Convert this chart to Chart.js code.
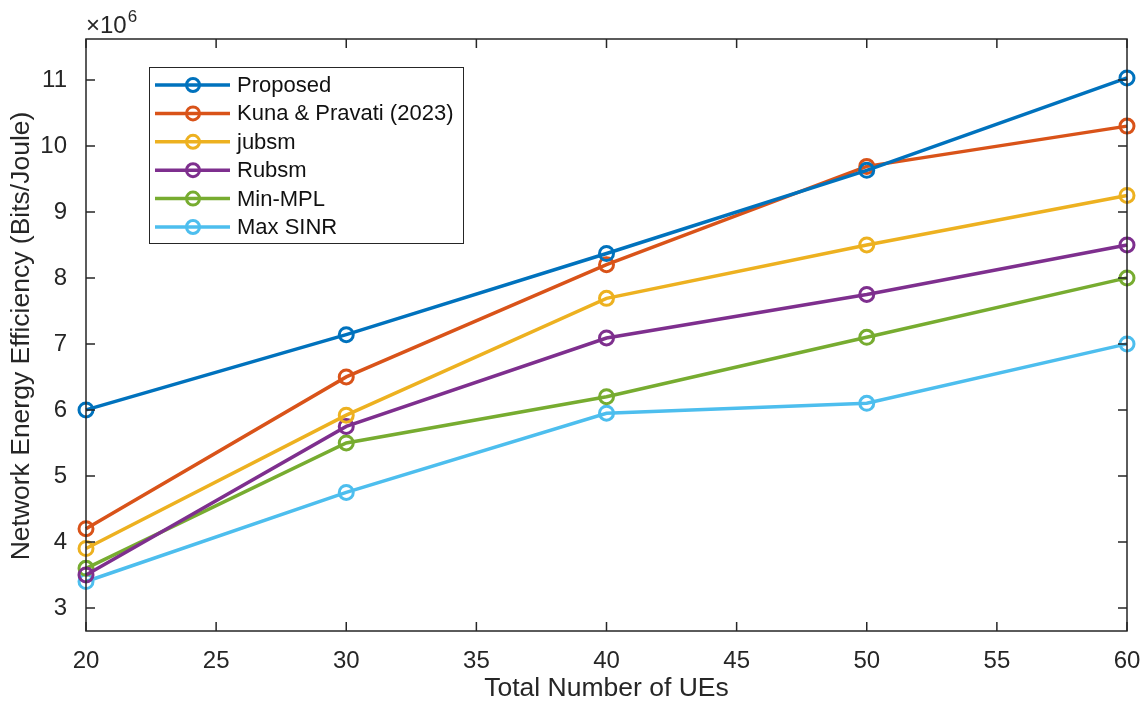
<!DOCTYPE html>
<html>
<head>
<meta charset="utf-8">
<script src="https://cdn.jsdelivr.net/npm/chart.js@4"></script>
<style>
  html, body { margin: 0; padding: 0; background: #fff; }
  #wrap { width: 1142px; height: 704px; }
</style>
</head>
<body>
<div id="wrap"><canvas id="chart" width="1142" height="704"></canvas></div>
<script>
// datos (eje y en unidades de 1e6)
const usuarios = [20, 30, 40, 50, 60];
const propuesto = [6.0, 7.14, 8.37, 9.63, 11.03];
const kuna = [4.2, 6.5, 8.2, 9.69, 10.3];
const jubsm = [3.9, 5.92, 7.69, 8.5, 9.25];
const rubsm = [3.5, 5.75, 7.09, 7.75, 8.5];
const minMpl = [3.6, 5.5, 6.2, 7.1, 8.0];
const maxSinr = [3.4, 4.75, 5.95, 6.1, 7.0];
const etiquetas = ["Proposed", "Kuna & Pravati (2023)", "jubsm", "Rubsm", "Min-MPL", "Max SINR"];
const colores = ["#0072BD", "#D95319", "#EDB120", "#7E2F8E", "#77AC30", "#4DBEEE"];
const xTicks = [20, 25, 30, 35, 40, 45, 50, 55, 60];
const yTicks = [3, 4, 5, 6, 7, 8, 9, 10, 11];

const FUENTE = "'Liberation Sans', Arial, sans-serif";
const EJE = "#262626";

const series = [propuesto, kuna, jubsm, rubsm, minMpl, maxSinr];

function serie(i) {
    return {
        label: etiquetas[i],
        data: usuarios.map((x, k) => ({ x: x, y: series[i][k] })),
        borderColor: colores[i],
        backgroundColor: "rgba(0,0,0,0)",
        borderWidth: 3.5,
        pointRadius: 7,
        pointBorderWidth: 3,
        pointBackgroundColor: "rgba(0,0,0,0)",
        pointBorderColor: colores[i],
        tension: 0,
        clip: false
    };
}

// ejes estilo matlab: caja, marcas hacia dentro, titulos y x10^6
const ejesMatlab = {
    id: "ejesMatlab",
    afterDraw(chart) {
        const ctx = chart.ctx;
        const a = chart.chartArea;
        const sx = chart.scales.x, sy = chart.scales.y;
        ctx.save();
        ctx.strokeStyle = EJE;
        ctx.lineWidth = 1.5;
        ctx.strokeRect(a.left, a.top, a.right - a.left, a.bottom - a.top);
        ctx.beginPath();
        xTicks.forEach(v => {
            const px = sx.getPixelForValue(v);
            ctx.moveTo(px, a.bottom); ctx.lineTo(px, a.bottom - 9);
            ctx.moveTo(px, a.top); ctx.lineTo(px, a.top + 9);
        });
        yTicks.forEach(v => {
            const py = sy.getPixelForValue(v);
            ctx.moveTo(a.left, py); ctx.lineTo(a.left + 9, py);
            ctx.moveTo(a.right, py); ctx.lineTo(a.right - 9, py);
        });
        ctx.stroke();

        ctx.fillStyle = EJE;
        ctx.textAlign = "center";
        ctx.textBaseline = "middle";
        ctx.font = "26.5px " + FUENTE;
        ctx.fillText("Total Number of UEs", (a.left + a.right) / 2, 689);
        ctx.save();
        ctx.translate(22, 336);
        ctx.rotate(-Math.PI / 2);
        ctx.fillText("Network Energy Efficiency (Bits/Joule)", 0, 0);
        ctx.restore();

        ctx.textAlign = "left";
        ctx.textBaseline = "alphabetic";
        ctx.font = "24px " + FUENTE;
        ctx.fillText("\u00d710", 86, 33);
        const w = ctx.measureText("\u00d710").width;
        ctx.font = "17px " + FUENTE;
        ctx.fillText("6", 86 + w + 1, 22);
        ctx.restore();
    }
};

// leyenda con linea y circulo como en matlab
const leyenda = {
    id: "leyenda",
    afterDraw(chart) {
        const ctx = chart.ctx;
        ctx.save();
        ctx.fillStyle = "#fff";
        ctx.fillRect(149, 67, 314, 176);
        ctx.strokeStyle = EJE;
        ctx.lineWidth = 1;
        ctx.strokeRect(149.5, 67.5, 314, 176);
        chart.data.datasets.forEach((ds, i) => {
            const y = 85 + i * 28.4;
            ctx.strokeStyle = ds.borderColor;
            ctx.lineWidth = 3.5;
            ctx.beginPath();
            ctx.moveTo(155, y); ctx.lineTo(230, y);
            ctx.stroke();
            ctx.lineWidth = 3;
            ctx.beginPath();
            ctx.arc(193, y, 6.5, 0, Math.PI * 2);
            ctx.stroke();
            ctx.fillStyle = "#111";
            ctx.font = "22px " + FUENTE;
            ctx.textBaseline = "middle";
            ctx.textAlign = "left";
            ctx.fillText(ds.label, 237, y + 1);
        });
        ctx.restore();
    }
};

new Chart(document.getElementById("chart").getContext("2d"), {
    type: "line",
    data: { datasets: series.map((s, i) => serie(i)) },
    options: {
        responsive: false,
        animation: false,
        layout: { padding: { top: 39, right: 15, left: 0, bottom: 0 } },
        plugins: { legend: { display: false }, tooltip: { enabled: false } },
        scales: {
            x: {
                type: "linear",
                min: 20,
                max: 60,
                afterBuildTicks: s => { s.ticks = xTicks.map(v => ({ value: v })); },
                afterFit: s => { s.height = 73; s.paddingLeft = 0; s.paddingRight = 0; },
                grid: { display: false },
                border: { display: false },
                ticks: {
                    padding: 8,
                    color: EJE,
                    font: { family: FUENTE, size: 24 },
                    maxRotation: 0
                }
            },
            y: {
                type: "linear",
                min: 2.65,
                max: 11.62,
                afterBuildTicks: s => { s.ticks = yTicks.map(v => ({ value: v })); },
                afterFit: s => { s.width = 86; s.paddingTop = 0; s.paddingBottom = 0; },
                grid: { display: false },
                border: { display: false },
                ticks: {
                    padding: 11,
                    color: EJE,
                    font: { family: FUENTE, size: 24 }
                }
            }
        }
    },
    plugins: [ejesMatlab, leyenda]
});
</script>
</body>
</html>
